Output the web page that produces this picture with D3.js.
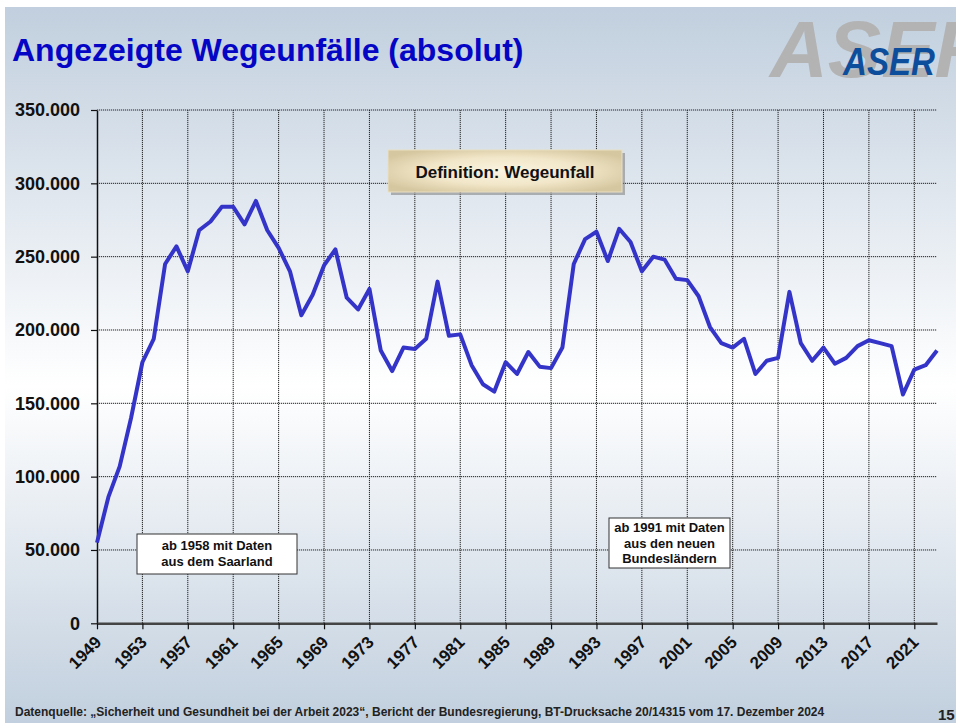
<!DOCTYPE html>
<html>
<head>
<meta charset="utf-8">
<script src="https://cdn.jsdelivr.net/npm/d3@7"></script>
<style>
  html, body { margin: 0; padding: 0; background: #fff; }
  svg { display: block; font-family: "Liberation Sans", Arial, sans-serif; }
</style>
</head>
<body>
<div id="chart"></div>
<script>
// data
var years = [1949, 1950, 1951, 1952, 1953, 1954, 1955, 1956, 1957, 1958, 1959,
  1960, 1961, 1962, 1963, 1964, 1965, 1966, 1967, 1968, 1969,
  1970, 1971, 1972, 1973, 1974, 1975, 1976, 1977, 1978, 1979,
  1980, 1981, 1982, 1983, 1984, 1985, 1986, 1987, 1988, 1989,
  1990, 1991, 1992, 1993, 1994, 1995, 1996, 1997, 1998, 1999,
  2000, 2001, 2002, 2003, 2004, 2005, 2006, 2007, 2008, 2009,
  2010, 2011, 2012, 2013, 2014, 2015, 2016, 2017, 2018, 2019,
  2020, 2021, 2022, 2023];
var wegeunfaelle = [55000, 86000, 107000, 140000, 178000, 194000, 245000, 257000, 240000, 268000, 274000,
  284000, 284000, 272000, 288000, 268000, 256000, 240000, 210000, 224000, 244000,
  255000, 222000, 214000, 228000, 186000, 172000, 188000, 187000, 194000, 233000,
  196000, 197000, 176000, 163000, 158000, 178000, 170000, 185000, 175000, 174000,
  188000, 245000, 262000, 267000, 247000, 269000, 260000, 240000, 250000, 248000,
  235000, 234000, 223000, 202000, 191000, 188000, 194000, 170000, 179000, 181000,
  226000, 191000, 179000, 188000, 177000, 181000, 189000, 193000, 191000, 189000,
  156000, 173000, 176000, 186000];
var xTicks = [1949, 1953, 1957, 1961, 1965, 1969, 1973, 1977, 1981, 1985, 1989,
  1993, 1997, 2001, 2005, 2009, 2013, 2017, 2021];
var yTicks = [0, 50000, 100000, 150000, 200000, 250000, 300000, 350000];

var noteSaar = ["ab 1958 mit Daten", "aus dem Saarland"];
var noteOst = ["ab 1991 mit Daten", "aus den neuen", "Bundesländern"];

var W = 956, H = 723;
var de = d3.formatLocale({ decimal: ",", thousands: ".", grouping: [3], currency: ["", " €"] });
var fmt = de.format(",");

var svg = d3.select("#chart").append("svg")
  .attr("width", W)
  .attr("height", H);

var defs = svg.append("defs");

// slide background: blue at top and bottom, white in the middle
var bg = defs.append("linearGradient")
  .attr("id", "slideBg")
  .attr("x1", 0).attr("y1", 0).attr("x2", 0).attr("y2", 1);
bg.append("stop").attr("offset", "0%").attr("stop-color", "#c1cfde");
bg.append("stop").attr("offset", "53%").attr("stop-color", "#ffffff");
bg.append("stop").attr("offset", "100%").attr("stop-color", "#c1cfde");

var boxBg = defs.append("radialGradient")
  .attr("id", "boxBg")
  .attr("cx", "50%").attr("cy", "50%").attr("r", "60%");
boxBg.append("stop").attr("offset", "0%").attr("stop-color", "#fbf4e2");
boxBg.append("stop").attr("offset", "55%").attr("stop-color", "#f1e6c8");
boxBg.append("stop").attr("offset", "100%").attr("stop-color", "#d5c79f");

svg.append("rect")
  .attr("x", 5).attr("y", 7)
  .attr("width", W - 5).attr("height", H - 7)
  .attr("fill", "url(#slideBg)");

// title and logo
svg.append("text")
  .attr("x", 12).attr("y", 61)
  .attr("font-size", 32)
  .attr("font-weight", "bold")
  .attr("fill", "#0505c6")
  .text("Angezeigte Wegeunfälle (absolut)");

svg.append("text")
  .attr("x", 770).attr("y", 77)
  .attr("font-size", 80)
  .attr("font-weight", "bold")
  .attr("font-style", "italic")
  .attr("fill", "#b3b3b3")
  .text("ASER");

svg.append("text")
  .attr("x", 843).attr("y", 75)
  .attr("font-size", 39)
  .attr("font-weight", "bold")
  .attr("font-style", "italic")
  .attr("fill", "#0d4e9c")
  .attr("textLength", 92)
  .attr("lengthAdjust", "spacingAndGlyphs")
  .text("ASER");

// scales
var x = d3.scaleLinear().domain([1949, 2023]).range([97, 937]);
var y = d3.scaleLinear().domain([0, 350000]).range([623.3, 110]);

var plot = svg.append("g");

// dotted grid
plot.append("g")
  .selectAll("line")
  .data(yTicks.slice(1))
  .enter().append("line")
  .attr("x1", x(1949)).attr("x2", x(2023))
  .attr("y1", function(d) { return y(d); })
  .attr("y2", function(d) { return y(d); })
  .attr("stroke", "#222")
  .attr("stroke-width", 1)
  .attr("stroke-dasharray", "1.2,0.8");

plot.append("g")
  .selectAll("line")
  .data(xTicks.slice(1))
  .enter().append("line")
  .attr("x1", function(d) { return x(d); })
  .attr("x2", function(d) { return x(d); })
  .attr("y1", y(350000)).attr("y2", y(0))
  .attr("stroke", "#222")
  .attr("stroke-width", 1)
  .attr("stroke-dasharray", "1.2,0.8");

// y axis
var yAxis = plot.append("g")
  .attr("transform", "translate(" + x(1949) + ",0)")
  .call(d3.axisLeft(y).tickValues(yTicks).tickSizeInner(6).tickSizeOuter(0).tickPadding(11)
    .tickFormat(function(d) { return fmt(d); }));
yAxis.select(".domain").attr("stroke", "#111").attr("stroke-width", 1.5);
yAxis.selectAll(".tick line").attr("stroke", "#111").attr("stroke-width", 1.2);
yAxis.selectAll("text")
  .attr("font-family", "'Liberation Sans', Arial, sans-serif")
  .attr("font-size", 18)
  .attr("font-weight", "bold")
  .attr("fill", "#111");

// x axis
var xAxis = plot.append("g")
  .attr("transform", "translate(0," + y(0) + ")")
  .call(d3.axisBottom(x).tickValues(xTicks).tickSizeInner(6).tickSizeOuter(0)
    .tickFormat(function(d) { return String(d); }));
xAxis.select(".domain").attr("stroke", "#444").attr("stroke-width", 2.5);
xAxis.selectAll(".tick line").attr("stroke", "#111").attr("stroke-width", 1.2);
xAxis.selectAll("text")
  .attr("font-family", "'Liberation Sans', Arial, sans-serif")
  .attr("font-size", 17)
  .attr("font-weight", "bold")
  .attr("fill", "#111")
  .attr("text-anchor", "end")
  .attr("dy", 0)
  .attr("y", 0)
  .attr("transform", "translate(5,20) rotate(-45)");

// the series line
var line = d3.line()
  .x(function(d, i) { return x(years[i]); })
  .y(function(d) { return y(d); });

plot.append("path")
  .datum(wegeunfaelle)
  .attr("d", line)
  .attr("fill", "none")
  .attr("stroke", "#3434c9")
  .attr("stroke-width", 4)
  .attr("stroke-linejoin", "round");

// definition button
var def = svg.append("g").attr("transform", "translate(388,150)");
def.append("rect").attr("x", 3).attr("y", 3).attr("width", 234).attr("height", 42)
  .attr("fill", "#7d7d7d").attr("opacity", 0.55);
def.append("rect").attr("width", 234).attr("height", 42)
  .attr("fill", "url(#boxBg)")
  .attr("stroke", "#e9dfc2").attr("stroke-width", 1);
def.append("text")
  .attr("x", 117).attr("y", 27.5)
  .attr("text-anchor", "middle")
  .attr("font-size", 17)
  .attr("font-weight", "bold")
  .attr("fill", "#111")
  .text("Definition: Wegeunfall");

// note boxes
function noteBox(x0, y0, w, h, lines, firstBase) {
  var g = svg.append("g");
  g.append("rect")
    .attr("x", x0).attr("y", y0).attr("width", w).attr("height", h)
    .attr("fill", "#fff")
    .attr("stroke", "#333").attr("stroke-width", 1);
  g.selectAll("text")
    .data(lines)
    .enter().append("text")
    .attr("x", x0 + w / 2)
    .attr("y", function(d, i) { return firstBase + i * 15.5; })
    .attr("text-anchor", "middle")
    .attr("font-size", 13)
    .attr("font-weight", "bold")
    .attr("fill", "#111")
    .text(function(d) { return d; });
}
noteBox(137, 534, 160, 40, noteSaar, 550);
noteBox(609, 518, 121, 50, noteOst, 532);

// footer
svg.append("text")
  .attr("x", 15).attr("y", 716)
  .attr("font-size", 12)
  .attr("font-weight", "bold")
  .attr("fill", "#222")
  .text("Datenquelle: \u201eSicherheit und Gesundheit bei der Arbeit 2023\u201c, Bericht der Bundesregierung, BT-Drucksache 20/14315 vom 17. Dezember 2024");

svg.append("text")
  .attr("x", 938).attr("y", 720)
  .attr("font-size", 15)
  .attr("font-weight", "bold")
  .attr("fill", "#222")
  .text("15");
</script>
</body>
</html>
